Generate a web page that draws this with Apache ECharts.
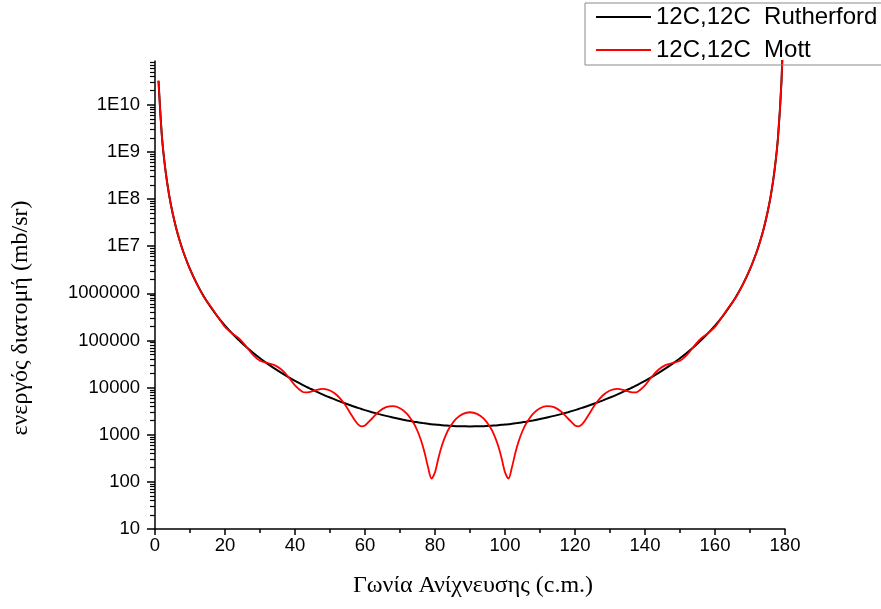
<!DOCTYPE html>
<html>
<head>
<meta charset="utf-8">
<script src="https://cdn.jsdelivr.net/npm/echarts@6/dist/echarts.min.js"></script>
<style>
html, body { margin: 0; padding: 0; background: #fff; }
#chart { width: 881px; height: 609px; }
</style>
</head>
<body>
<div id="chart"></div>
<script>
// scattering angle (c.m.), degrees
var angles = [1, 2, 3, 4, 5, 6, 7, 8, 10, 12, 14, 16, 18, 20, 22, 24, 26, 28, 30,
	32, 34, 36, 38, 40, 42, 43, 44, 46, 48, 50, 52, 54, 56, 57, 58, 59, 60,
	62, 64, 66, 68, 70, 72, 74, 75, 76, 77, 78, 79, 80, 81, 82, 83, 84, 86, 88, 90,
	92, 94, 96, 97, 98, 99, 100, 101, 102, 103, 104, 105, 106, 108, 110, 112, 114, 116, 118, 120,
	121, 122, 123, 124, 126, 128, 130, 132, 134, 136, 137, 138, 140, 142, 144, 146, 148, 150,
	152, 154, 156, 158, 160, 162, 164, 166, 168, 170, 172, 173, 174, 175, 176, 177, 178, 179, 179.5];

// 12C,12C Rutherford (mb/sr)
var rutherford = [3.23e10, 2.02e9, 3.99e8, 1.26e8, 5.18e7, 2.50e7, 1.35e7, 7.92e6,
	3.25e6, 1.57e6, 8.50e5, 5.00e5, 3.13e5, 2.06e5, 1.42e5, 1.01e5, 7.34e4, 5.49e4, 4.20e4,
	3.27e4, 2.59e4, 2.08e4, 1.69e4, 1.39e4, 1.16e4, 1.06e4, 9780, 8310, 7120, 6160,
	5370, 4710, 4170, 3930, 3720, 3520, 3330, 3010, 2740, 2510, 2320, 2150,
	2010, 1890, 1840, 1790, 1750, 1710, 1670, 1640, 1620, 1590, 1570, 1550, 1520, 1510, 1500,
	1510, 1520, 1550, 1570, 1590, 1620, 1640, 1670, 1710, 1750, 1790, 1840, 1890,
	2010, 2150, 2320, 2510, 2740, 3010, 3330, 3520, 3720, 3930, 4170, 4710, 5370, 6160,
	7120, 8310, 9780, 1.06e4, 1.16e4, 1.39e4, 1.69e4, 2.08e4, 2.59e4, 3.27e4, 4.20e4,
	5.49e4, 7.34e4, 1.01e5, 1.42e5, 2.06e5, 3.13e5, 5.00e5, 8.50e5, 1.57e6, 3.25e6,
	7.92e6, 1.35e7, 2.50e7, 5.18e7, 1.26e8, 3.99e8, 2.02e9, 3.23e10, 5.2e11];

// 12C,12C Mott (mb/sr)
var mott = [3.23e10, 2.02e9, 3.99e8, 1.26e8, 5.18e7, 2.50e7, 1.35e7, 7.92e6,
	3.25e6, 1.57e6, 8.27e5, 5.17e5, 3.15e5, 1.94e5, 1.42e5, 1.10e5, 7.55e4, 4.93e4, 3.70e4,
	3.33e4, 3.03e4, 2.45e4, 1.72e4, 1.12e4, 8300, 7900, 8020, 8890, 9380, 8680,
	6880, 4640, 2720, 2070, 1660, 1500, 1570, 2210, 3120, 3840, 4050, 3650,
	2780, 1710, 1200, 764, 426, 206, 118, 160, 326, 597, 947, 1350, 2160, 2770, 3000,
	2770, 2160, 1350, 947, 597, 326, 160, 118, 206, 426, 764, 1200, 1710,
	2780, 3650, 4050, 3840, 3120, 2210, 1570, 1500, 1660, 2070, 2720, 4640, 6880, 8680,
	9380, 8890, 8020, 7900, 8300, 1.12e4, 1.72e4, 2.45e4, 3.03e4, 3.33e4, 3.70e4,
	4.93e4, 7.55e4, 1.10e5, 1.42e5, 1.94e5, 3.15e5, 5.17e5, 8.27e5, 1.57e6, 3.25e6,
	7.92e6, 1.35e7, 2.50e7, 5.18e7, 1.26e8, 3.99e8, 2.02e9, 3.23e10, 5.2e11];

var seriesNames = ['12C,12C  Rutherford', '12C,12C  Mott'];
var xTitle = 'Γωνία Ανίχνευσης (c.m.)';
var yTitle = 'ενεργός διατομή (mb/sr)';
var yMin = 10, yMax = 8.5e10;

var chart = echarts.init(document.getElementById('chart'));

function pairs(vals) {
	return angles.map(function(a, i) { return [a, vals[i]]; });
}

// y labels: plain numbers up to 1000000, then 1E7 ...
function decadeLabel(v) {
	var e = Math.round(Math.log10(v));
	if (Math.abs(v / Math.pow(10, e) - 1) > 1e-6) return '';
	return e <= 6 ? String(Math.pow(10, e)) : '1E' + e;
}

// tick positions in log space (for the overlay axes)
var logMin = Math.log10(yMin), logMax = Math.log10(yMax);
var majorLog = [], minorLog = [];
for (var e = 1; e <= 10; e++) {
	majorLog.push(e);
	for (var k = 2; k <= 9; k++) {
		var p = e + Math.log10(k);
		if (p <= logMax) minorLog.push(p);
	}
}

var labelFont = { color: '#000', fontFamily: 'Liberation Sans', fontSize: 18.5 };
var titleFont = '24px "Liberation Serif"';

var option = {
	animation: false,
	backgroundColor: '#fff',
	grid: { left: 155, right: 96, top: 61, bottom: 80, containLabel: false, outerBoundsMode: 'none' },
	legend: {
		orient: 'vertical',
		left: 585,
		top: 3,
		padding: [2, 12, 3, 11],
		icon: 'rect',
		itemWidth: 55,
		itemHeight: 2,
		itemGap: 9,
		borderColor: '#8a8a8a',
		borderWidth: 1,
		textStyle: { color: '#000', fontFamily: 'Liberation Sans', fontSize: 24 },
		data: seriesNames
	},
	xAxis: {
		type: 'value',
		min: 0,
		max: 180,
		interval: 20,
		axisLine: { lineStyle: { color: '#000', width: 1.5 } },
		axisTick: { length: 6, lineStyle: { color: '#000', width: 1.5 } },
		minorTick: { show: true, splitNumber: 2, length: 4, lineStyle: { color: '#000', width: 1.5 } },
		splitLine: { show: false },
		axisLabel: Object.assign({ margin: 7 }, labelFont)
	},
	yAxis: [{
		type: 'log',
		logBase: 10,
		min: yMin,
		max: yMax,
		interval: 1,
		position: 'left',
		axisLine: { show: true, lineStyle: { color: '#000', width: 1.5 } },
		axisTick: { show: false },
		splitLine: { show: false },
		axisLabel: Object.assign({ margin: 15, formatter: decadeLabel }, labelFont)
	}, {
		type: 'value',
		min: logMin,
		max: logMax,
		position: 'left',
		axisLine: { show: false },
		axisLabel: { show: false },
		splitLine: { show: false },
		axisTick: { show: true, length: 8, customValues: majorLog, lineStyle: { color: '#000', width: 1.5 } }
	}, {
		type: 'value',
		min: logMin,
		max: logMax,
		position: 'left',
		axisLine: { show: false },
		axisLabel: { show: false },
		splitLine: { show: false },
		axisTick: { show: true, length: 5, customValues: minorLog, lineStyle: { color: '#000', width: 1.2 } }
	}],
	graphic: [{
		type: 'text',
		x: 473,
		y: 586,
		style: { text: xTitle, font: titleFont, fill: '#000', align: 'center', verticalAlign: 'middle', textAlign: 'center', textVerticalAlign: 'middle' }
	}, {
		type: 'text',
		x: 21,
		y: 318,
		rotation: Math.PI / 2,
		style: { text: yTitle, font: titleFont, fill: '#000', align: 'center', verticalAlign: 'middle', textAlign: 'center', textVerticalAlign: 'middle' }
	}],
	series: [{
		name: seriesNames[0],
		type: 'line',
		yAxisIndex: 0,
		symbol: 'none',
		smooth: 0.3,
		color: '#000',
		lineStyle: { color: '#000', width: 2 },
		data: pairs(rutherford)
	}, {
		name: seriesNames[1],
		type: 'line',
		yAxisIndex: 0,
		symbol: 'none',
		smooth: 0.3,
		color: '#ff0000',
		lineStyle: { color: '#ff0000', width: 1.8 },
		data: pairs(mott)
	}]
};

chart.setOption(option);
</script>
</body>
</html>
